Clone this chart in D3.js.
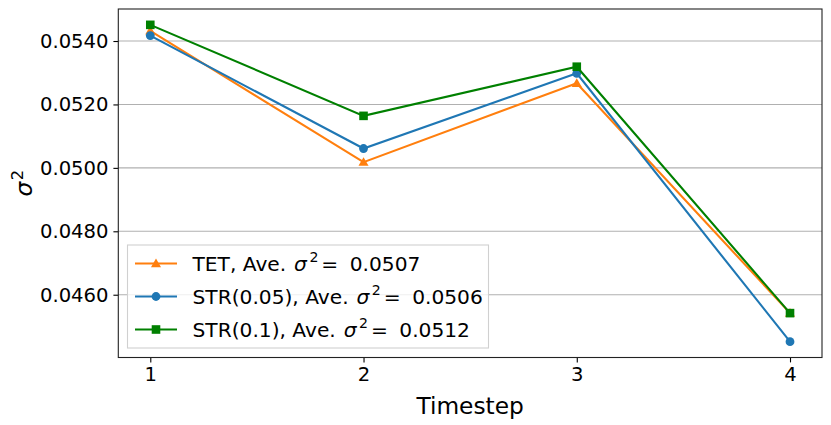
<!DOCTYPE html>
<html>
<head>
<meta charset="utf-8">
<script src="https://cdn.jsdelivr.net/npm/d3@7"></script>
<style>
  body { margin: 0; background: #fff; }
  text { font-family: "DejaVu Sans", sans-serif; fill: #000; }
</style>
</head>
<body>
<svg id="chart" width="831" height="425"></svg>
<script>
const timesteps = [1, 2, 3, 4]
const tetValues = [0.05432, 0.05018, 0.05267, 0.04542]
const str005Values = [0.05417, 0.05061, 0.05298, 0.04452]
const str01Values = [0.05451, 0.05164, 0.05319, 0.04542]
const yTicks = [0.0460, 0.0480, 0.0500, 0.0520, 0.0540]
const seriesNames = ['TET', 'STR(0.05)', 'STR(0.1)']
const seriesAverages = ['0.0507', '0.0506', '0.0512']

const series = [
  {name: seriesNames[0], avg: seriesAverages[0], values: tetValues, color: '#ff7f0e', marker: 'triangle'},
  {name: seriesNames[1], avg: seriesAverages[1], values: str005Values, color: '#1f77b4', marker: 'circle'},
  {name: seriesNames[2], avg: seriesAverages[2], values: str01Values, color: '#008000', marker: 'square'},
]

let svg = d3.select('#chart')
let margin = {left: 118.3, right: 9, top: 9, bottom: 67.5}
let width = +svg.attr('width')
let height = +svg.attr('height')

let xPad = (d3.max(timesteps) - d3.min(timesteps)) * 0.05
let x = d3.scaleLinear()
    .domain([d3.min(timesteps) - xPad, d3.max(timesteps) + xPad])
    .range([margin.left, width - margin.right])

let allValues = tetValues.concat(str005Values, str01Values)
let yMin = d3.min(allValues), yMax = d3.max(allValues)
let yPad = (yMax - yMin) * 0.05
let y = d3.scaleLinear()
    .domain([yMin - yPad, yMax + yPad])
    .range([height - margin.bottom, margin.top])

// gridlines
svg.append('g')
  .selectAll('line')
  .data(yTicks)
  .enter().append('line')
    .attr('x1', margin.left)
    .attr('x2', width - margin.right)
    .attr('y1', d => y(d))
    .attr('y2', d => y(d))
    .attr('stroke', '#b0b0b0')
    .attr('stroke-width', 1.1)

// axes
let xAxis = svg.append('g')
    .attr('transform', `translate(0,${height - margin.bottom})`)
    .call(d3.axisBottom(x).tickValues(timesteps).tickFormat(d3.format('d')).tickSize(4.9).tickSizeOuter(0))
let yAxis = svg.append('g')
    .attr('transform', `translate(${margin.left},0)`)
    .call(d3.axisLeft(y).tickValues(yTicks).tickFormat(d3.format('.4f')).tickSize(4.9).tickSizeOuter(0))

for (let ax of [xAxis, yAxis]) {
  ax.select('.domain').remove()
  ax.selectAll('.tick line').attr('stroke', '#000').attr('stroke-width', 1.1)
  ax.selectAll('.tick text')
      .attr('font-size', '19.6px')
      .attr('font-family', '"DejaVu Sans", sans-serif')
      .attr('fill', '#000')
}
xAxis.selectAll('.tick text').attr('dy', '0.71em').attr('y', 9.8)
yAxis.selectAll('.tick text').attr('x', -9.8)

// lines and markers
let line = d3.line()
    .x((d, i) => x(timesteps[i]))
    .y(d => y(d))

function drawMarker(g, type, color, cx, cy) {
  if (type === 'circle') {
    g.append('circle').attr('cx', cx).attr('cy', cy).attr('r', 4.4).attr('fill', color)
  } else if (type === 'square') {
    g.append('rect').attr('x', cx - 4.3).attr('y', cy - 4.3).attr('width', 8.6).attr('height', 8.6).attr('fill', color)
  } else {
    let s = d3.symbol().type(d3.symbolTriangle).size(44)
    g.append('path').attr('d', s()).attr('transform', `translate(${cx},${cy + 0.8})`).attr('fill', color)
  }
}

let plot = svg.append('g')
for (let s of series) {
  plot.append('path')
      .datum(s.values)
      .attr('d', line)
      .attr('fill', 'none')
      .attr('stroke', s.color)
      .attr('stroke-width', 2.1)
  let mg = plot.append('g')
  s.values.forEach((v, i) => drawMarker(mg, s.marker, s.color, x(timesteps[i]), y(v)))
}

// frame
svg.append('rect')
    .attr('x', margin.left)
    .attr('y', margin.top)
    .attr('width', width - margin.left - margin.right)
    .attr('height', height - margin.top - margin.bottom)
    .attr('fill', 'none')
    .attr('stroke', '#222')
    .attr('stroke-width', 1.1)

// axis labels
svg.append('text')
    .attr('x', (margin.left + width - margin.right) / 2)
    .attr('y', 414)
    .attr('text-anchor', 'middle')
    .attr('font-size', '23.3px')
    .text('Timestep')

let ylab = svg.append('text')
    .attr('transform', `translate(32,${(margin.top + height - margin.bottom) / 2}) rotate(-90)`)
    .attr('text-anchor', 'middle')
    .attr('font-size', '23.3px')
ylab.append('tspan').attr('font-style', 'italic').text('σ')
ylab.append('tspan').attr('font-size', '16.3px').attr('dx', 1.5).attr('dy', -9).text('2')

// legend
let legend = svg.append('g')
legend.append('rect')
    .attr('x', 127.5)
    .attr('y', 245)
    .attr('width', 361)
    .attr('height', 103)
    .attr('fill', 'rgba(255,255,255,0.8)')
    .attr('stroke', '#d0d0d0')
    .attr('stroke-width', 1.1)

series.forEach((s, i) => {
  let cy = 263.5 + i * 33
  let g = legend.append('g')
  g.append('line')
      .attr('x1', 135).attr('x2', 177)
      .attr('y1', cy).attr('y2', cy)
      .attr('stroke', s.color).attr('stroke-width', 2.1)
  drawMarker(g, s.marker, s.color, 156, cy)
  let t = g.append('text')
      .attr('x', 192.5)
      .attr('y', cy + 7)
      .attr('font-size', '20.2px')
  t.append('tspan').text(`${s.name}, Ave. `)
  t.append('tspan').attr('font-style', 'italic').attr('dx', 1.5).text('σ')
  t.append('tspan').attr('font-size', '14.1px').attr('dx', 2.5).attr('dy', -8.5).text('2')
  t.append('tspan').attr('dx', 3).attr('dy', 8.5).text('=')
  t.append('tspan').attr('dx', 5).text('\u00a0' + s.avg)
})
</script>
</body>
</html>
